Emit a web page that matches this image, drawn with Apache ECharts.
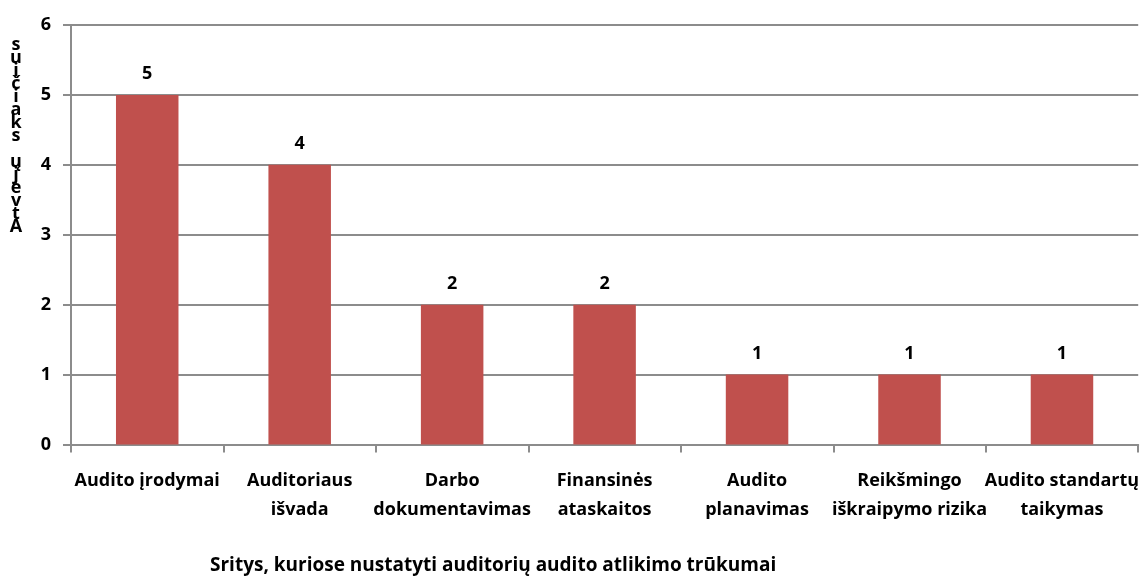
<!DOCTYPE html>
<html>
<head>
<meta charset="utf-8">
<script src="https://cdn.jsdelivr.net/npm/echarts@6/dist/echarts.min.js"></script>
<style>
html, body { margin: 0; padding: 0; background: #fff; }
#chart { width: 1142px; height: 579px; }
</style>
</head>
<body>
<div id="chart"></div>
<script>
// Audit shortcomings by area
const categories = [
  'Audito įrodymai',
  'Auditoriaus\nišvada',
  'Darbo\ndokumentavimas',
  'Finansinės\nataskaitos',
  'Audito\nplanavimas',
  'Reikšmingo\niškraipymo rizika',
  'Audito standartų\ntaikymas'
];
const counts = [5, 4, 2, 2, 1, 1, 1];
const yTitle = 'Atvejų skaičius';
const xTitle = 'Sritys, kuriose nustatyti auditorių audito atlikimo trūkumai';

const font = '"Open Sans", Lato, sans-serif';
const chart = echarts.init(document.getElementById('chart'));

// y-axis title drawn as tightly stacked characters, read bottom to top
const stacked = yTitle.split('').reverse().join('\n');

chart.setOption({
  animation: false,
  grid: { left: 71, right: 2, top: 25, bottom: 134.5 },
  xAxis: {
    type: 'category',
    data: categories,
    axisLine: { lineStyle: { color: '#8c8c8c', width: 2 } },
    axisTick: { show: true, length: 8, lineStyle: { color: '#8c8c8c', width: 2 } },
    axisLabel: {
      interval: 0,
      margin: 22,
      color: '#000',
      fontFamily: font,
      fontWeight: 'bold',
      fontSize: 18,
      lineHeight: 29
    }
  },
  yAxis: {
    type: 'value',
    min: 0,
    max: 6,
    interval: 1,
    axisLine: { show: true, lineStyle: { color: '#8c8c8c', width: 2 } },
    axisTick: { show: true, length: 8, lineStyle: { color: '#8c8c8c', width: 2 } },
    splitLine: { lineStyle: { color: '#8c8c8c', width: 2 } },
    axisLabel: {
      margin: 20,
      color: '#000',
      fontFamily: font,
      fontWeight: 'bold',
      fontSize: 18
    }
  },
  series: [{
    type: 'bar',
    data: counts,
    barWidth: '41%',
    itemStyle: { color: '#C0504D' },
    label: {
      show: true,
      position: 'top',
      distance: 12,
      color: '#000',
      fontFamily: font,
      fontWeight: 'bold',
      fontSize: 18
    }
  }],
  graphic: [
    {
      type: 'text',
      x: 16,
      y: 38,
      style: {
        text: stacked,
        fontFamily: font,
        fontWeight: 'bold',
        fontSize: 18,
        lineHeight: 13,
        fill: '#000',
        align: 'center'
      }
    },
    {
      type: 'text',
      left: 210,
      top: 556,
      style: {
        text: xTitle,
        fontFamily: font,
        fontWeight: 'bold',
        fontSize: 19,
        fill: '#000'
      }
    }
  ]
});
</script>
</body>
</html>
